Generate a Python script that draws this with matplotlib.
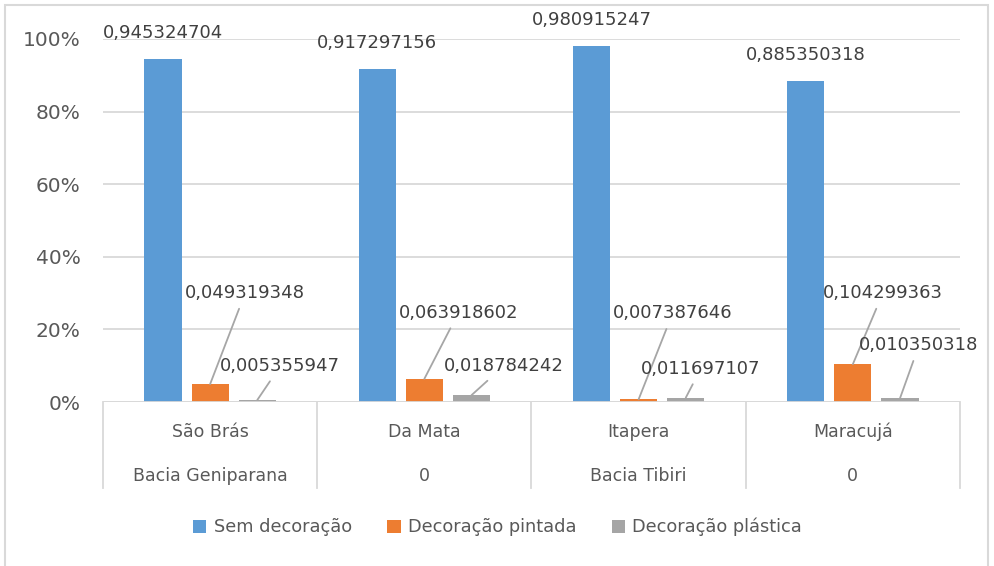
import matplotlib
matplotlib.use("Agg")
import matplotlib.pyplot as plt
from matplotlib.patches import Rectangle, Patch
import numpy as np

plt.rcParams['font.family'] = ['DejaVu Sans']

# ---- data ----
categories = ["São Brás", "Da Mata", "Itapera", "Maracujá"]
groups = ["Bacia Geniparana", "0", "Bacia Tibiri", "0"]
series_names = ["Sem decoração", "Decoração pintada", "Decoração plástica"]
sem_decoracao = [0.945324704, 0.917297156, 0.980915247, 0.885350318]
decoracao_pintada = [0.049319348, 0.063918602, 0.007387646, 0.104299363]
decoracao_plastica = [0.005355947, 0.018784242, 0.011697107, 0.010350318]
label_texts = [
    ["0,945324704", "0,917297156", "0,980915247", "0,885350318"],
    ["0,049319348", "0,063918602", "0,007387646", "0,104299363"],
    ["0,005355947", "0,018784242", "0,011697107", "0,010350318"],
]
yticks = [0, 0.2, 0.4, 0.6, 0.8, 1.0]
ytick_labels = ["0%", "20%", "40%", "60%", "80%", "100%"]

# ---- style / layout ----
colors = ["#5B9BD5", "#ED7D31", "#A5A5A5"]
text_col = "#595959"
lab_col = "#404040"
grid_col = "#D9D9D9"
W, H = 995, 566
px = 72.0 / 100.0  # pixels -> points

# label offsets (pixels) relative to bar top center, for series 2 and 3
lab_offsets = [
    None,
    [(35, -91), (34, -66), (34, -86), (30, -71)],
    [(23, -34), (32, -29), (15, -29), (19, -53)],
]

fig = plt.figure(figsize=(W / 100, H / 100), dpi=100)
ax = fig.add_axes([103 / W, 1 - 402 / H, (960 - 103) / W, (402 - 39) / H])

x = np.arange(len(categories))
width = 0.173
step = 0.22
all_series = [sem_decoracao, decoracao_pintada, decoracao_plastica]
for i, (vals, c, name) in enumerate(zip(all_series, colors, series_names)):
    ax.bar(x + (i - 1) * step, vals, width, color=c, label=name, zorder=3)

ax.set_xlim(-0.5, len(categories) - 0.5)
ax.set_ylim(0, 1)
ax.set_yticks(yticks)
ax.set_yticklabels(ytick_labels, fontsize=14.5, color=text_col)
ax.tick_params(axis='y', length=0, pad=16)
ax.set_xticks([])
ax.grid(axis='y', color=grid_col, linewidth=1.3, zorder=0)
for s in ax.spines.values():
    s.set_visible(False)
ax.axhline(0, color=grid_col, linewidth=1.3, zorder=4)

# data labels
for i, vals in enumerate(all_series):
    for j, v in enumerate(vals):
        bx = x[j] + (i - 1) * step
        if i == 0:
            ax.annotate(label_texts[i][j], (bx, v), xytext=(0, 26 * px),
                        textcoords='offset points', ha='center', va='center',
                        fontsize=13, color=lab_col, zorder=5)
        else:
            dx, dy = lab_offsets[i][j]
            ax.annotate(label_texts[i][j], (bx, v), xytext=(dx * px, -dy * px),
                        textcoords='offset points', ha='center', va='center',
                        fontsize=13, color=lab_col, zorder=5,
                        arrowprops=dict(arrowstyle='-', color='#A6A6A6',
                                        linewidth=1.3, shrinkA=3, shrinkB=0))

# category axis (two levels)
trans = ax.get_xaxis_transform()
bottom = -(488 - 402) / (402 - 39)
for b in np.arange(len(categories) + 1) - 0.5:
    ax.plot([b, b], [0, bottom], transform=trans, color=grid_col,
            linewidth=1.3, clip_on=False)
for j, (cat, grp) in enumerate(zip(categories, groups)):
    ax.text(x[j], -(432 - 402) / 363, cat, transform=trans, ha='center',
            va='center', fontsize=12.5, color=text_col)
    ax.text(x[j], -(476 - 402) / 363, grp, transform=trans, ha='center',
            va='center', fontsize=12.5, color=text_col)

# legend
handles = [Patch(facecolor=c, label=n) for c, n in zip(colors, series_names)]
fig.legend(handles=handles, loc='center', bbox_to_anchor=(0.5, 1 - 527 / H),
           ncol=3, frameon=False, fontsize=12.8, handlelength=0.75,
           handleheight=0.75, handletextpad=0.4, columnspacing=2.0,
           labelcolor=text_col)

# outer border
fig.patches.append(Rectangle((5 / W, -0.05), (988 - 5) / W, 1 - 5 / H + 0.05,
                             transform=fig.transFigure, fill=False,
                             edgecolor=grid_col, linewidth=1.5))

fig.savefig("out.png", dpi=100)
